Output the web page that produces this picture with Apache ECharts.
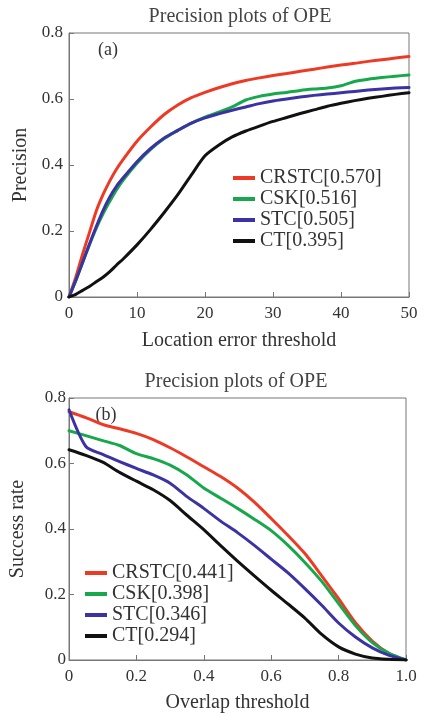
<!DOCTYPE html>
<html>
<head>
<meta charset="utf-8">
<script src="https://cdn.jsdelivr.net/npm/echarts@6/dist/echarts.min.js"></script>
<style>
    html, body {margin: 0; padding: 0; background: #fff;}
    #main {width: 424px; height: 714px;}
</style>
</head>
<body>
<div id="main"></div>
<script>
/*(a) precision plot, x = location error threshold*/
var errThresholds = [0, 1, 2, 3, 4, 5, 6, 7, 8, 10, 12, 14, 16, 18, 20, 22, 24, 26, 28, 30, 32, 34, 36, 38, 40, 42, 44, 46, 48, 50];
var precCRSTC = [0, 0.06, 0.13, 0.195, 0.26, 0.31, 0.352, 0.388, 0.418, 0.472, 0.515, 0.553, 0.582, 0.604, 0.62, 0.634, 0.646, 0.656, 0.664, 0.671, 0.677, 0.684, 0.69, 0.697, 0.703, 0.708, 0.714, 0.719, 0.724, 0.729];
var precCSK = [0, 0.05, 0.105, 0.158, 0.208, 0.252, 0.29, 0.325, 0.355, 0.405, 0.447, 0.48, 0.505, 0.527, 0.545, 0.56, 0.576, 0.597, 0.608, 0.615, 0.62, 0.626, 0.63, 0.633, 0.64, 0.653, 0.66, 0.665, 0.669, 0.673];
var precSTC = [0, 0.05, 0.105, 0.16, 0.213, 0.262, 0.303, 0.336, 0.362, 0.41, 0.45, 0.482, 0.505, 0.527, 0.543, 0.555, 0.566, 0.576, 0.586, 0.594, 0.60, 0.606, 0.611, 0.615, 0.619, 0.623, 0.627, 0.63, 0.633, 0.635];
var precCT = [0, 0.008, 0.02, 0.032, 0.046, 0.06, 0.077, 0.097, 0.116, 0.158, 0.205, 0.256, 0.31, 0.37, 0.428, 0.46, 0.485, 0.503, 0.518, 0.532, 0.544, 0.556, 0.567, 0.578, 0.587, 0.595, 0.602, 0.608, 0.614, 0.619];

/*(b) success plot, x = overlap threshold*/
var overlapThresholds = [0, 0.05, 0.1, 0.15, 0.2, 0.25, 0.3, 0.35, 0.4, 0.45, 0.5, 0.55, 0.6, 0.65, 0.7, 0.75, 0.8, 0.85, 0.9, 0.95, 1.0];
var succCRSTC = [0.758, 0.74, 0.719, 0.706, 0.692, 0.673, 0.648, 0.62, 0.59, 0.56, 0.525, 0.482, 0.432, 0.38, 0.325, 0.257, 0.187, 0.114, 0.058, 0.02, 0];
var succCSK = [0.70, 0.685, 0.67, 0.655, 0.63, 0.615, 0.595, 0.565, 0.525, 0.494, 0.463, 0.43, 0.395, 0.35, 0.298, 0.24, 0.172, 0.105, 0.053, 0.02, 0];
var succSTC = [0.764, 0.652, 0.628, 0.606, 0.585, 0.565, 0.54, 0.499, 0.463, 0.424, 0.389, 0.35, 0.308, 0.266, 0.218, 0.167, 0.113, 0.07, 0.037, 0.014, 0];
var succCT = [0.642, 0.625, 0.604, 0.573, 0.546, 0.52, 0.487, 0.442, 0.398, 0.349, 0.302, 0.257, 0.213, 0.171, 0.128, 0.078, 0.04, 0.018, 0.006, 0.002, 0];

var namesA = ['CRSTC[0.570]', 'CSK[0.516]', 'STC[0.505]', 'CT[0.395]'];
var namesB = ['CRSTC[0.441]', 'CSK[0.398]', 'STC[0.346]', 'CT[0.294]'];
var colors = ['#ee3a24', '#17a84b', '#3b33a3', '#111111'];

var serif = '"Liberation Serif", "DejaVu Serif", serif';

function pairs(xs, ys) {
    var out = [];
    for (var i = 0; i < xs.length; i++) {
        out.push([xs[i], ys[i]]);
    }
    return out;
}

function makeSeries(name, idx, xs, ys, grid) {
    return {
        name: name,
        type: 'line',
        xAxisIndex: grid,
        yAxisIndex: grid,
        smooth: 0.25,
        symbol: 'none',
        lineStyle: {color: colors[idx], width: 3, join: 'round', cap: 'round'},
        itemStyle: {color: colors[idx]},
        data: pairs(xs, ys)
    };
}

function yLabel(v) {
    return v === 0 ? '0' : v.toFixed(1);
}

var axisCommon = {
    axisLine: {lineStyle: {color: '#777', width: 1}},
    axisTick: {inside: true, length: 5, lineStyle: {color: '#777'}},
    splitLine: {show: false},
    nameTextStyle: {fontFamily: serif, fontSize: 20, color: '#333'}
};

function axis(extra) {
    var o = JSON.parse(JSON.stringify(axisCommon));
    for (var k in extra) o[k] = extra[k];
    return o;
}

var seriesA = [precCRSTC, precCSK, precSTC, precCT];
var seriesB = [succCRSTC, succCSK, succSTC, succCT];
var series = [];
for (var i = 0; i < 4; i++) series.push(makeSeries(namesA[i], i, errThresholds, seriesA[i], 0));
for (var j = 0; j < 4; j++) series.push(makeSeries(namesB[j], j, overlapThresholds, seriesB[j], 1));

var legendCommon = {
    orient: 'vertical',
    icon: 'rect',
    itemWidth: 22,
    itemHeight: 4,
    itemGap: 1,
    padding: 0,
    selectedMode: false,
    textStyle: {fontFamily: serif, fontSize: 20, color: '#333', lineHeight: 20}
};

var option = {
    backgroundColor: '#fff',
    animation: false,
    grid: [
        {left: 69, top: 33, width: 340, height: 264, show: true, borderColor: '#777', borderWidth: 1, backgroundColor: 'transparent'},
        {left: 65, top: 398, width: 341, height: 264, show: true, borderColor: '#777', borderWidth: 1, backgroundColor: 'transparent'}
    ],
    xAxis: [
        axis({type: 'value', gridIndex: 0, min: 0, max: 50, interval: 10,
            name: 'Location error threshold', nameLocation: 'middle', nameGap: 34,
            axisLabel: {fontFamily: serif, fontSize: 17, color: '#333', margin: 8}}),
        axis({type: 'value', gridIndex: 1, min: 0, max: 1, interval: 0.2,
            name: 'Overlap threshold', nameLocation: 'middle', nameGap: 33,
            axisLabel: {fontFamily: serif, fontSize: 17, color: '#333', margin: 8, formatter: yLabel}})
    ],
    yAxis: [
        axis({type: 'value', gridIndex: 0, min: 0, max: 0.8, interval: 0.2,
            name: 'Precision', nameLocation: 'middle', nameGap: 35,
            axisLabel: {fontFamily: serif, fontSize: 17, color: '#333', margin: 6, formatter: yLabel}}),
        axis({type: 'value', gridIndex: 1, min: 0, max: 0.8, interval: 0.2,
            name: 'Success rate', nameLocation: 'middle', nameGap: 41,
            axisLabel: {fontFamily: serif, fontSize: 17, color: '#333', margin: 3, formatter: yLabel}})
    ],
    legend: [
        Object.assign({}, legendCommon, {data: namesA, left: 233, top: 168}),
        Object.assign({}, legendCommon, {data: namesB, left: 85, top: 563})
    ],
    graphic: [
        {type: 'text', x: 240, y: 17, style: {text: 'Precision plots of OPE', font: '20px ' + serif, fill: '#444', align: 'center', verticalAlign: 'middle'}},
        {type: 'text', x: 236, y: 382, style: {text: 'Precision plots of OPE', font: '20px ' + serif, fill: '#444', align: 'center', verticalAlign: 'middle'}},
        {type: 'text', x: 108, y: 50, style: {text: '(a)', font: '18px ' + serif, fill: '#333', align: 'center', verticalAlign: 'middle'}},
        {type: 'text', x: 106, y: 415, style: {text: '(b)', font: '18px ' + serif, fill: '#333', align: 'center', verticalAlign: 'middle'}}
    ],
    series: series
};

var myChart = echarts.init(document.getElementById('main'));
myChart.setOption(option);
</script>
</body>
</html>
